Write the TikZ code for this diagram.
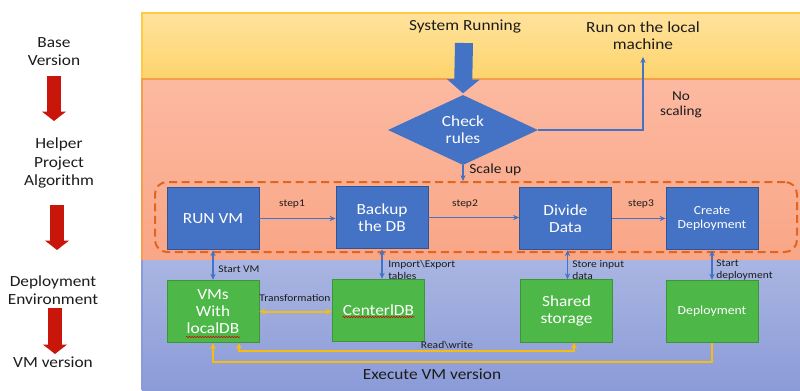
\documentclass[tikz,border=0pt]{standalone}
\usepackage{fontspec}
\setmainfont{Carlito}[FakeStretch=1.12]
\usetikzlibrary{arrows.meta,shapes.geometric,calc,decorations.pathmorphing}

\definecolor{textdark}{HTML}{1C1C1C}
\definecolor{ylwtop}{HTML}{FFE29C}
\definecolor{ylwbot}{HTML}{FDD46C}
\definecolor{ylwline}{HTML}{FFCB45}
\definecolor{saltop}{HTML}{FCB9A1}
\definecolor{salbot}{HTML}{F9A686}
\definecolor{salline}{HTML}{F59F4E}
\definecolor{bluetop}{HTML}{A9B5E1}
\definecolor{bluebot}{HTML}{8B9BD8}
\definecolor{boxblue}{HTML}{4472C4}
\definecolor{boxblueline}{HTML}{2F5597}
\definecolor{boxgreen}{HTML}{4DB748}
\definecolor{boxgreenline}{HTML}{3C9638}
\definecolor{linkblue}{HTML}{4472C4}
\definecolor{ayellow}{HTML}{F7BC12}
\definecolor{dashorange}{HTML}{E2651F}
\definecolor{stagered}{HTML}{C8160A}

\tikzset{
  ytip/.tip={Stealth[length=4.5pt,width=4.5pt]},
  btip/.tip={Stealth[length=4.5pt,width=4pt]},
  lbl/.style={text=textdark, inner sep=0pt, align=center},
  stagelbl/.style={lbl, font=\fontsize{11.6}{13.6}\selectfont},
  smalllbl/.style={lbl, font=\fontsize{7.7}{9}\selectfont, align=left},
  procbox/.style={draw=boxblueline, fill=boxblue, line width=0.6pt,
    minimum width=69pt, minimum height=47pt, text=white, align=center, inner sep=1pt},
  storebox/.style={draw=boxgreenline, fill=boxgreen, line width=0.6pt,
    minimum width=69pt, minimum height=47pt, text=white, align=center, inner sep=1pt},
  bigfont/.style={font=\fontsize{11.6}{12.8}\selectfont},
  greenfont/.style={font=\fontsize{11.6}{13}\selectfont},
  midfont/.style={font=\fontsize{9.2}{10.5}\selectfont},
  link/.style={draw=linkblue, line width=1pt, -btip},
  dlink/.style={draw=linkblue, line width=1pt, btip-btip},
  ylink/.style={draw=ayellow, line width=1.5pt},
  stagearrow/.style={draw=stagered, line width=10.5pt, -{Triangle[length=7pt,width=17.5pt]}},
  spell/.style={draw=red!85!black, line width=0.4pt,
    decorate, decoration={snake, amplitude=0.5pt, segment length=2pt}}
}

\begin{document}
\begin{tikzpicture}[x=0.75pt,y=-0.75pt]
\useasboundingbox (0,0) rectangle (800,390);
\fill[white] (0,0) rectangle (800,390);

% three horizontal bands
\shade[top color=ylwtop, bottom color=ylwbot] (142,13) rectangle (800,79);
\shade[top color=saltop, bottom color=salbot] (142,79) rectangle (800,260);
\shade[top color=bluetop, bottom color=bluebot] (142,260) rectangle (800,390);
\draw[ylwline, line width=1.5pt] (800,13) -- (142,13) -- (142,79);
\draw[salline, line width=1.5pt] (800,79) -- (142,79) -- (142,260);
\draw[bluebot, line width=1.2pt] (142,260) -- (142,390);

% stage column on the left
\node[stagelbl] (base) at (54,52) {Base\\Version};
\node[stagelbl] (helper) at (59,163) {Helper\\Project\\Algorithm};
\node[stagelbl] (deployenv) at (53,290) {Deployment\\Environment};
\node[stagelbl] (vmver) at (53,362) {VM version};
\coordinate (r1a) at (54,76);  \coordinate (r1b) at (54,121);
\coordinate (r2a) at (57,205); \coordinate (r2b) at (57,250);
\coordinate (r3a) at (55,308); \coordinate (r3b) at (55,354);
\draw[stagearrow] (r1a) -- (r1b);
\draw[stagearrow] (r2a) -- (r2b);
\draw[stagearrow] (r3a) -- (r3b);

% top band
\node[lbl, font=\fontsize{11.6}{12.8}\selectfont] (sysrun) at (465,27) {System Running};
\node[lbl, font=\fontsize{11.6}{12.8}\selectfont] (runlocal) at (643,36) {Run on the local\\machine};

% decision
\node[diamond, fill=boxblue, minimum width=112.5pt, minimum height=49.5pt,
      inner sep=0pt, text=white, align=center, bigfont] (check) at (463,130) {Check\\rules};
\coordinate (sysarrowtop) at (464,43);
\draw[draw=boxblue, line width=13.5pt, -{Triangle[length=10.5pt,width=24pt]}]
  (sysarrowtop) -- ([yshift=1pt]check.north);
\draw[link] (check.east) -| ([yshift=-5pt]runlocal.south);
\node[lbl, font=\fontsize{10.2}{11.3}\selectfont] (noscale) at (681,105) {No\\scaling};

% dashed group of steps
\node[draw=dashorange, line width=1.5pt, dash pattern=on 6pt off 3.5pt,
      rounded corners=9pt, minimum width=481.5pt, minimum height=52.5pt] (steps) at (476,217) {};
\draw[link] (check.south) -- (check.south |- steps.north);
\node[lbl, font=\fontsize{10.4}{12}\selectfont, anchor=west] (scaleup) at (469,170) {Scale up};

% processing steps
\node[procbox, bigfont] (runvm) at (213,218.5) {RUN VM};
\node[procbox, bigfont] (backup) at (382,217.5) {Backup\\the DB};
\node[procbox, bigfont] (divide) at (565.5,218.5) {Divide\\Data};
\node[procbox, midfont] (create) at (712,218.5) {Create\\Deployment};

\draw[link] (runvm.east) -- (backup.west |- runvm.east);
\draw[link] (backup.east) -- (divide.west |- backup.east);
\draw[link] (divide.east) -- (create.west |- divide.east);
\node[smalllbl] (s1) at (292,204) {step1};
\node[smalllbl] (s2) at (465,204) {step2};
\node[smalllbl] (s3) at (641,204) {step3};

% storage / runtime boxes
\node[storebox, greenfont] (vms) at (213,311.5) {VMs\\With\\localDB};
\node[storebox, greenfont] (center) at (378.5,310.5) {CenterlDB};
\node[storebox, greenfont] (shared) at (566.5,311) {Shared\\storage};
\node[storebox, midfont] (deploy) at (712,311.5) {Deployment};

\draw[spell] ($(vms.center)+(-27,25.5)$) -- ++(54,0);
\draw[spell] ($(center.center)+(-36,6.5)$) -- ++(72,0);

% step to storage links
\draw[dlink] (runvm.south) -- (runvm.south |- vms.north);
\draw[dlink] (backup.south) -- (backup.south |- center.north);
\draw[dlink] ([xshift=1.5pt]divide.south) -- ([xshift=1.5pt]divide.south |- shared.north);
\draw[dlink] (create.south) -- (create.south |- deploy.north);
\node[smalllbl, anchor=west] (lstart) at (218,269) {Start VM};
\node[smalllbl, anchor=west] (limp) at (388,270) {Import\textbackslash Export\\tables};
\node[smalllbl, anchor=west] (lstore) at (572,270) {Store input\\data};
\node[smalllbl, anchor=west] (ldep) at (716,270) {Start\\deployment};

% data exchange
\draw[ylink, ytip-ytip] (vms.east) -- (center.west |- vms.east);
\node[smalllbl] (ltrans) at (295,298) {Transformation};
\draw[ylink, ytip-ytip] ($(vms.south)+(26,0)$) -- ++(0,8) -| ($(shared.south)+(7.5,0)$);
\node[smalllbl] (lrw) at (447,345) {Read\textbackslash write};
\draw[ylink, -ytip] (deploy.south) -- ++(0,19) -| (vms.south);

\node[lbl, font=\fontsize{11.6}{14}\selectfont] (exec) at (432,374) {Execute VM version};
\end{tikzpicture}
\end{document}
